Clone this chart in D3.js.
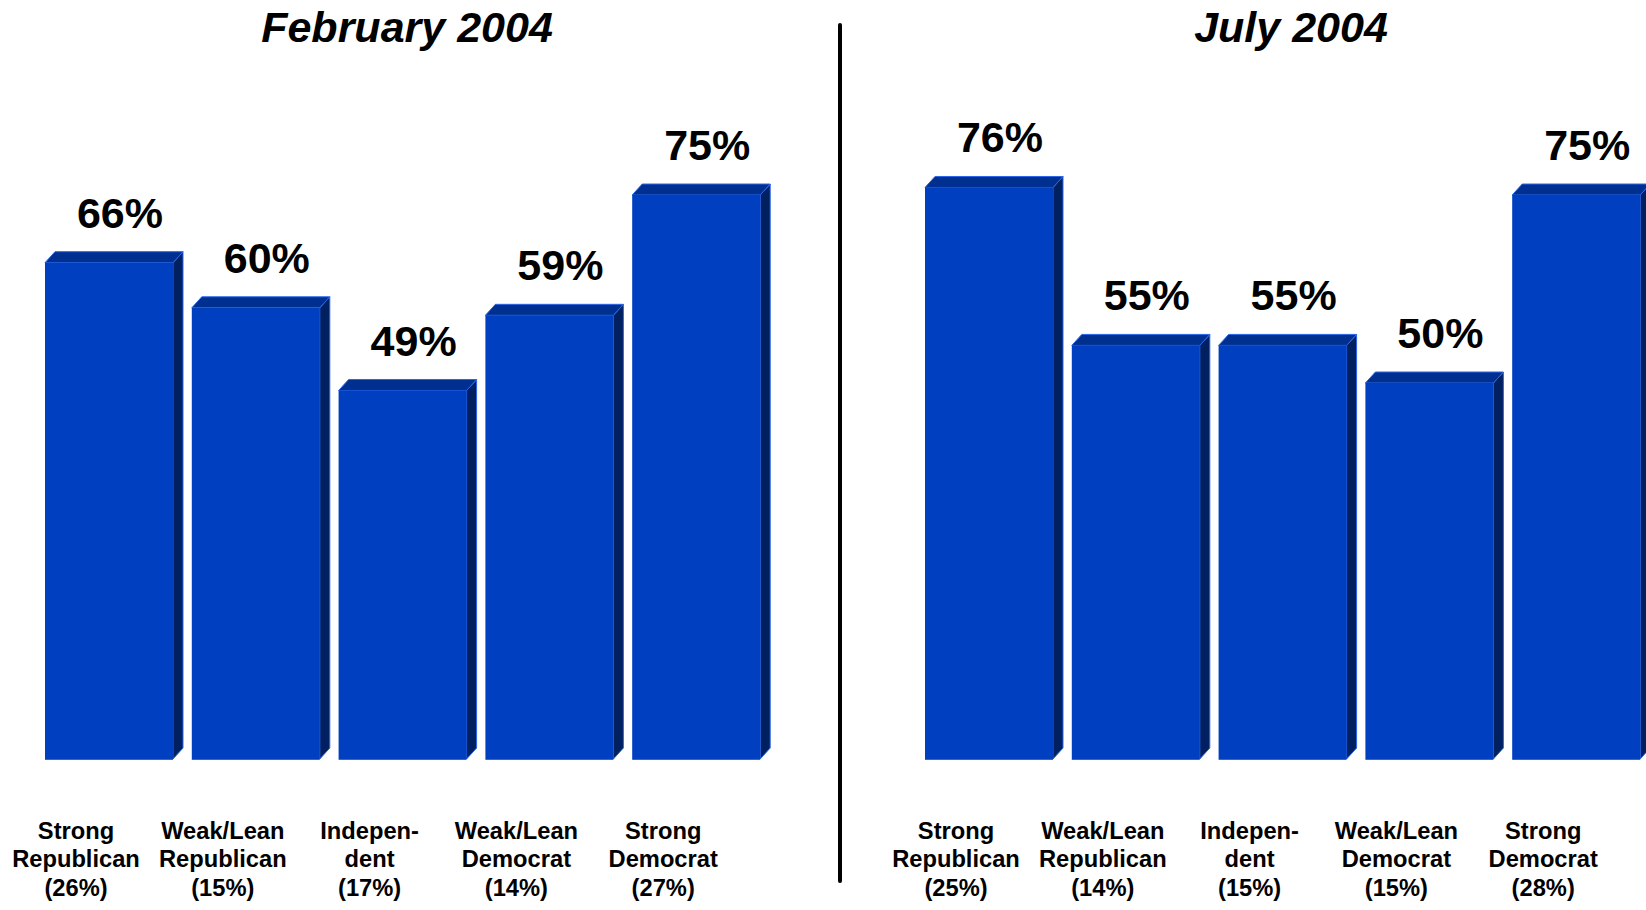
<!DOCTYPE html>
<html>
<head>
<meta charset="utf-8">
<script src="https://cdn.jsdelivr.net/npm/d3@7"></script>
<style>
  html, body { margin: 0; padding: 0; background: #fff; }
  svg { display: block; font-family: "Liberation Sans", Arial, sans-serif; }
</style>
</head>
<body>
<svg id="chart" width="1646" height="910"></svg>
<script>
const categories = [
  ["Strong", "Republican"],
  ["Weak/Lean", "Republican"],
  ["Indepen-", "dent"],
  ["Weak/Lean", "Democrat"],
  ["Strong", "Democrat"]
];
const categoryKeys = ["SR", "WR", "I", "WD", "SD"];
const panelTitles = ["February 2004", "July 2004"];
const febValues = [66, 60, 49, 59, 75];
const julValues = [76, 55, 55, 50, 75];
const febShares = [26, 15, 17, 14, 27];
const julShares = [25, 14, 15, 15, 28];

const panels = [
  { title: panelTitles[0], values: febValues, shares: febShares, range: [45, 760.2], titleX: 407 },
  { title: panelTitles[1], values: julValues, shares: julShares, range: [925, 1640.2], titleX: 1291 }
];

const svg = d3.select("#chart");
const y = d3.scaleLinear().domain([0, 100]).range([759, 7]);
const dx = 10, dy = 11;
const frontColor = "#003fbf", topColor = "#00308f", sideColor = "#00205f", edge = "#2a66ea";

panels.forEach(p => {
  const x = d3.scaleBand().domain(categoryKeys).range(p.range).paddingInner(0.128).paddingOuter(0);
  const g = svg.append("g");
  const rows = categoryKeys.map((k, i) => ({ k, v: p.values[i], s: p.shares[i], lines: categories[i] }));

  const bar = g.selectAll("g.bar").data(rows).join("g").attr("class", "bar");
  // side face
  bar.append("path")
    .attr("d", d => {
      const x1 = x(d.k) + x.bandwidth(), y0 = y(0), yt = y(d.v);
      return `M${x1},${yt} L${x1 + dx},${yt - dy} L${x1 + dx},${y0 - dy} L${x1},${y0} Z`;
    })
    .attr("fill", sideColor).attr("stroke", edge).attr("stroke-width", 1);
  // top face
  bar.append("path")
    .attr("d", d => {
      const x0 = x(d.k), x1 = x0 + x.bandwidth(), yt = y(d.v);
      return `M${x0},${yt} L${x0 + dx},${yt - dy} L${x1 + dx},${yt - dy} L${x1},${yt} Z`;
    })
    .attr("fill", topColor).attr("stroke", edge).attr("stroke-width", 1);
  // front face
  bar.append("rect")
    .attr("x", d => x(d.k)).attr("y", d => y(d.v))
    .attr("width", x.bandwidth()).attr("height", d => y(0) - y(d.v))
    .attr("fill", frontColor);
  bar.append("line")
    .attr("x1", d => x(d.k)).attr("x2", d => x(d.k) + x.bandwidth())
    .attr("y1", y(0) + 0.5).attr("y2", y(0) + 0.5)
    .attr("stroke", edge).attr("stroke-width", 1);

  // value labels
  g.selectAll("text.val").data(rows).join("text")
    .attr("class", "val")
    .attr("x", d => x(d.k) + x.bandwidth() / 2 + 11)
    .attr("y", d => y(d.v) - 35)
    .attr("text-anchor", "middle")
    .attr("font-size", 43).attr("font-weight", "bold").attr("fill", "#000")
    .text(d => d.v + "%");

  // category labels
  const cl = g.selectAll("text.cat").data(rows).join("text")
    .attr("class", "cat")
    .attr("text-anchor", "middle")
    .attr("font-size", 23.7).attr("font-weight", "bold").attr("fill", "#000");
  cl.each(function (d) {
    const t = d3.select(this);
    const cx = x(d.k) + x.bandwidth() / 2 - 33;
    const lines = [d.lines[0], d.lines[1], "(" + d.s + "%)"];
    lines.forEach((ln, i) => {
      t.append("tspan").attr("x", cx).attr("y", 839 + i * 28.4).text(ln);
    });
  });

  // title
  svg.append("text")
    .attr("x", p.titleX).attr("y", 42)
    .attr("text-anchor", "middle")
    .attr("font-size", 43).attr("font-weight", "bold").attr("font-style", "italic")
    .text(p.title);
});

// divider
svg.append("line")
  .attr("x1", 840).attr("x2", 840).attr("y1", 25).attr("y2", 881)
  .attr("stroke", "#000").attr("stroke-width", 4).attr("stroke-linecap", "round");
</script>
</body>
</html>
